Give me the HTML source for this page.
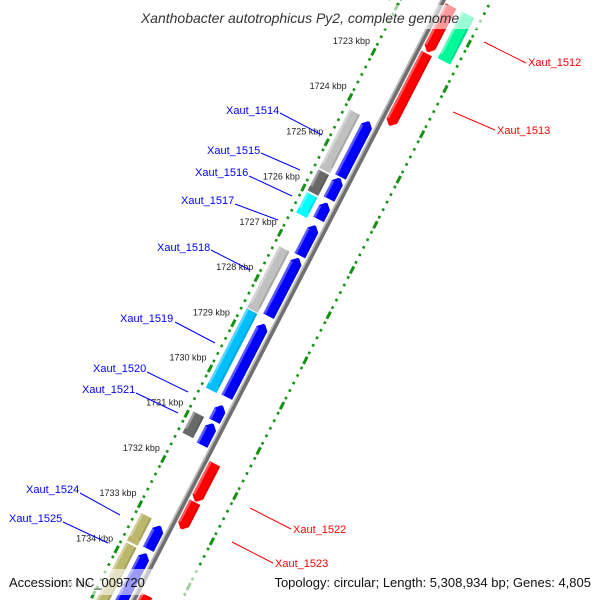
<!DOCTYPE html>
<html><head><meta charset="utf-8"><style>
html,body{margin:0;padding:0;background:#fff;width:600px;height:600px;overflow:hidden;position:relative;}
svg{display:block;font-family:"Liberation Sans",sans-serif;}
</style></head><body>
<svg id="chart" width="600" height="600" viewBox="0 0 600 600" xmlns="http://www.w3.org/2000/svg" style="position:absolute;left:0;top:0">
<rect width="600" height="600" fill="#fff"/>
<g id="strip" transform="translate(443,0) rotate(27.3)"></g>
<g id="labels"></g>
<rect x="118" y="5" width="364" height="24" fill="#fff" opacity="0.6"/>
<text x="300" y="23" text-anchor="middle" font-size="14" font-style="italic" fill="#333">Xanthobacter autotrophicus Py2, complete genome</text>
<rect x="0" y="569" width="600" height="26" fill="#fff" opacity="0.6"/>
<text x="9" y="587" font-size="13" fill="#111">Accession: NC_009720</text>
<text x="591" y="587" text-anchor="end" font-size="13" fill="#111">Topology: circular; Length: 5,308,934 bp; Genes: 4,805</text>
</svg>
<script>
// data (kbp)
const geneStarts = [1721.5,1721.5,1722.55,1724.22,1724.26,1725.55,1725.51,1726.05,1726.06,1726.56,1727.24,1727.28,1728.62,1728.74,1730.54,1730.90,1730.94,1731.62,1732.47,1733.14,1733.20,1733.79,1733.81,1734.53];
const geneEnds   = [1722.51,1722.53,1724.14,1725.51,1725.48,1726.01,1725.97,1726.50,1726.42,1727.22,1728.60,1728.56,1730.37,1730.35,1730.88,1731.37,1731.41,1732.45,1733.06,1733.75,1733.71,1735.5,1735.5,1735.5];
const geneTracks = ["rev","cog","rev","cog","fwd","cog","fwd","cog","fwd","fwd","cog","fwd","cog","fwd","fwd","cog","fwd","rev","rev","cog","fwd","cog","fwd","rev"];
const geneColors = ["#ff0000","#00fa9a","#ff0000","#c0c0c0","#0000ff","#696969","#0000ff","#00ffff","#0000ff","#0000ff","#c0c0c0","#0000ff","#00bfff","#0000ff","#0000ff","#696969","#0000ff","#ff0000","#ff0000","#bdb76b","#0000ff","#bdb76b","#0000ff","#ff0000"];
const tickKbp = [1722,1723,1724,1725,1726,1727,1728,1729,1730,1731,1732,1733,1734,1735];
const tickLabels = ["1722 kbp","1723 kbp","1724 kbp","1725 kbp","1726 kbp","1727 kbp","1728 kbp","1729 kbp","1730 kbp","1731 kbp","1732 kbp","1733 kbp","1734 kbp","1735 kbp"];

const NS="http://www.w3.org/2000/svg";
const strip=document.getElementById('strip');
const labelsG=document.getElementById('labels');
const U=k=>78+50.9*(k-1723);
const COS=Math.cos(27.3*Math.PI/180), SIN=Math.sin(27.3*Math.PI/180);
const toXY=(v,u)=>[443+v*COS-u*SIN, v*SIN+u*COS];
const tracks={fwd:[-16,-4],cog:[-33,-21],rev:[4,16],teal:[22,36]};
function mk(tag,attrs,parent){const e=document.createElementNS(NS,tag);for(const k in attrs)e.setAttribute(k,attrs[k]);parent.appendChild(e);return e;}

const bb1=mk('line',{x1:-1.5,y1:-50,x2:-1.5,y2:700,stroke:'#bbb','stroke-width':2},strip);


const bb2=mk('line',{x1:1,y1:-50,x2:1,y2:700,stroke:'#707070','stroke-width':3.5},strip);



[-38,43].forEach((v,ri)=>{
  for(let j=1721*6;j<=1736*6;j++){
    if(j%6===0) continue;
    const kk=j/6;
    const d=mk('rect',{x:v-1.3,y:U(kk)-1.3,width:2.6,height:2.6,fill:'#129212'},strip);
    
    
  }
  tickKbp.forEach((k,i)=>{
    const t=mk('rect',{x:v-1.5,y:U(k)-4,width:3,height:8,fill:'#129212'},strip);
    
    
    if(ri===0){
      const [x,y]=toXY(v,U(k));
      const tx=mk('text',{x:x-22,y:y-8,'text-anchor':'middle','font-size':9,fill:'#222'},labelsG);
      tx.textContent=tickLabels[i];
      
      
    }
  });
});

geneStarts.forEach((s,i)=>{
  let tr=geneTracks[i];
  if(geneColors[i]==='#00fa9a') tr='teal';
  const [v1,v2]=tracks[tr];
  const u1=U(s), u2=U(geneEnds[i]);
  const vm=(v1+v2)/2, h=5;
  let pts;
  if(tr==='fwd') pts=[[v1,u1+h],[vm-1,u1],[vm+1,u1],[v2,u1+h],[v2,u2],[v1,u2]];
  else if(tr==='rev') pts=[[v1,u1],[v2,u1],[v2,u2-h],[vm+1,u2],[vm-1,u2],[v1,u2-h]];
  else pts=[[v1,u1],[v2,u1],[v2,u2],[v1,u2]];
  const g=mk('g',{},strip);
  
  
  mk('polygon',{points:pts.map(p=>p.join(',')).join(' '),fill:geneColors[i]},g);
  mk('rect',{x:v1,y:u1+(tr==='fwd'?h:0)+0.5,width:2.5,height:Math.max(0,u2-u1-h-1),fill:'#fff',opacity:0.35},g);
  mk('rect',{x:v2-2,y:u1+(tr==='fwd'?h:0)+0.5,width:2,height:Math.max(0,u2-u1-h-1),fill:'#000',opacity:0.12},g);
});
</script>
<svg width="600" height="600" style="position:absolute;left:0;top:0;pointer-events:none;font-family:'Liberation Sans',sans-serif">
<g font-size="11" fill="#0000ff" stroke-width="1">
<line x1="280" y1="113" x2="322" y2="135" stroke="#0000ff"/><text x="226" y="114">Xaut_1514</text>
<line x1="261" y1="153" x2="300" y2="170" stroke="#0000ff"/><text x="207" y="154">Xaut_1515</text>
<line x1="249" y1="176" x2="292" y2="196" stroke="#0000ff"/><text x="195" y="176">Xaut_1516</text>
<line x1="235" y1="204" x2="278" y2="220" stroke="#0000ff"/><text x="181" y="204">Xaut_1517</text>
<line x1="211" y1="250" x2="250" y2="270" stroke="#0000ff"/><text x="157" y="251">Xaut_1518</text>
<line x1="175" y1="322" x2="215" y2="343" stroke="#0000ff"/><text x="120" y="322">Xaut_1519</text>
<line x1="147" y1="372" x2="188" y2="392" stroke="#0000ff"/><text x="93" y="372">Xaut_1520</text>
<line x1="136" y1="393" x2="178" y2="413" stroke="#0000ff"/><text x="82" y="393">Xaut_1521</text>
<line x1="80" y1="493" x2="120" y2="515" stroke="#0000ff"/><text x="26" y="493">Xaut_1524</text>
<line x1="63" y1="522" x2="108" y2="543" stroke="#0000ff"/><text x="9" y="522">Xaut_1525</text>
</g>
<g font-size="11" fill="#ff0000">
<line x1="484" y1="42" x2="526" y2="63" stroke="#ff0000"/><text x="528" y="66">Xaut_1512</text>
<line x1="453" y1="112" x2="495" y2="130" stroke="#ff0000"/><text x="497" y="134">Xaut_1513</text>
<line x1="250" y1="508" x2="291" y2="529" stroke="#ff0000"/><text x="293" y="533">Xaut_1522</text>
<line x1="232" y1="542" x2="273" y2="563" stroke="#ff0000"/><text x="275" y="567">Xaut_1523</text>
</g>
</svg>
</body></html>
